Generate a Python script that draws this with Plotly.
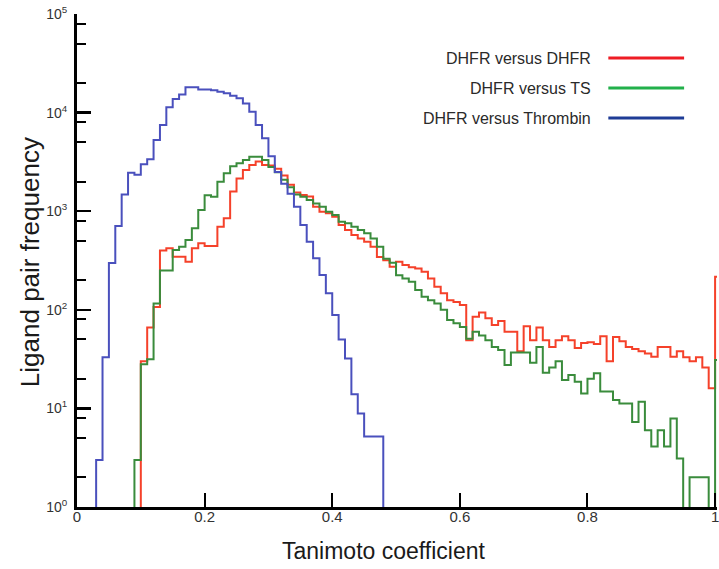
import plotly.graph_objects as go

# ---------------- data ----------------
bin_width = 0.01
series_names = ["DHFR versus DHFR", "DHFR versus TS", "DHFR versus Thrombin"]

# DHFR vs DHFR : bins starting at 0.10 ... 1.00
red_start = 0.10
red_counts = [30, 66, 107, 400, 420, 346, 346, 307, 420, 473,
              444, 444, 697, 850, 1580, 2150, 2620, 2950, 3200, 2950,
              2900, 2700, 2300, 1850, 1550, 1460, 1410, 1110, 990, 955,
              880, 725, 645, 573, 530, 490, 436, 344, 319, 273,
              307, 284, 270, 263, 243, 208, 171, 147, 125, 120,
              112, 49, 85, 94, 82, 70, 77, 60, 60, 38,
              68, 49, 66, 49, 42, 49, 54, 49, 41, 46,
              47, 45, 54, 30, 53, 48, 42, 40, 38, 36,
              33.5, 42, 42, 33.5, 38, 33, 30, 33, 26, 16,
              217]

# DHFR vs TS : bins starting at 0.09 ... 1.00
green_start = 0.09
green_counts = [3, 28, 31.5, 116, 250, 250, 405, 437, 510, 670,
                1030, 1450, 1400, 1990, 2430, 2860, 3060, 3310, 3570, 3570,
                3310, 2800, 2480, 2080, 1750, 1480, 1400, 1300, 1200, 1110,
                990, 916, 783, 753, 697, 645, 596, 530, 436, 330,
                300, 224, 208, 193, 159, 136, 125, 116, 100, 79,
                73, 67, 51, 60, 55, 49, 42, 39, 27.6, 37,
                37, 37, 29, 42, 23, 26, 30, 19.4, 21.8, 18.6,
                14.2, 20, 22.7, 14.8, 14.8, 12.2, 11.2, 11.2, 7.3, 11.7,
                6.0, 4.1, 6.0, 4.1, 7.9, 3.1, 0, 2, 2, 2,
                0, 31]

# DHFR vs Thrombin : bins starting at 0.03 ... 0.47
blue_start = 0.03
blue_counts = [3, 33, 298, 708, 1480, 2450, 2340, 2990, 3360, 5270,
               7480, 11300, 13700, 15300, 18100, 18100, 17200, 17200, 16900, 16300,
               15700, 14800, 14000, 12400, 10200, 7480, 5500, 3600, 2500, 1900,
               1500, 1110, 724, 490, 333, 225, 147, 88.5, 50, 32,
               13.9, 8.9, 5.2, 5.2, 5.2]

x_tick_vals = [0, 0.2, 0.4, 0.6, 0.8, 1]
x_tick_text = ["0", "0.2", "0.4", "0.6", "0.8", "1"]
y_tick_vals = [1, 10, 100, 1000, 10000, 100000]
y_tick_text = ["10<sup>0</sup>", "10<sup>1</sup>", "10<sup>2</sup>",
               "10<sup>3</sup>", "10<sup>4</sup>", "10<sup>5</sup>"]
y_minor_vals = [2, 5, 8, 20, 50, 80, 200, 500, 800,
                2000, 5000, 8000, 20000, 50000, 80000]

curve_colors = ["#f5412a", "#3a8c3c", "#4a50bd"]
legend_colors = ["#ee1c24", "#22b04b", "#1f3c96"]

FONT = "Liberation Sans, Arial, Helvetica, sans-serif"


def step_xy(start, counts):
    floor = 0.1  # below the visible range (log axis), acts as zero
    xs = [start]
    ys = [floor]
    for i, c in enumerate(counts):
        xs.append(round(start + i * bin_width, 4))
        ys.append(c if c > 0 else floor)
    end = round(start + len(counts) * bin_width, 4)
    xs += [end, end]
    ys += [ys[-1], floor]
    return xs, ys


fig = go.Figure()
for name, start, counts, col in zip(series_names,
                                    [red_start, green_start, blue_start],
                                    [red_counts, green_counts, blue_counts],
                                    curve_colors):
    xs, ys = step_xy(start, counts)
    fig.add_trace(go.Scatter(x=xs, y=ys, mode="lines", name=name,
                             line=dict(color=col, width=2, shape="hv"),
                             showlegend=False, hoverinfo="skip"))

# plot area (page px): x 77..719, y 14..507
W, H = 719, 569
PL, PW, PT, PH = 77, 642, 14, 493


def px_x(sx):  # page px -> paper x
    return (sx - PL) / PW


def px_y(sy):  # page px -> paper y
    return (PT + PH - sy) / PH


# legend drawn as text + line sample on the right
leg_sy = [58, 88, 118]
for name, col, sy in zip(series_names, legend_colors, leg_sy):
    fig.add_annotation(x=px_x(595), y=px_y(sy), xref="paper", yref="paper",
                       text=name, showarrow=False, xanchor="right",
                       yanchor="middle",
                       font=dict(family=FONT, size=16, color="#2a2a2a"))
    fig.add_shape(type="line", xref="paper", yref="paper",
                  x0=px_x(610), x1=px_x(686), y0=px_y(sy), y1=px_y(sy),
                  line=dict(color=col, width=3))

# axis titles
fig.add_annotation(x=px_x(384), y=px_y(551), xref="paper", yref="paper",
                   text="Tanimoto coefficient", showarrow=False,
                   xanchor="center", yanchor="middle",
                   font=dict(family=FONT, size=23, color="#1a1a1a"))
fig.add_annotation(x=px_x(30), y=px_y(262), xref="paper", yref="paper",
                   text="Ligand pair frequency", showarrow=False,
                   textangle=-90, xanchor="center", yanchor="middle",
                   font=dict(family=FONT, size=26, color="#1a1a1a"))

fig.update_layout(
    width=W, height=H,
    margin=dict(l=PL, r=W - PL - PW, t=PT, b=H - PT - PH),
    paper_bgcolor="white", plot_bgcolor="white",
    font=dict(family=FONT, color="#333333"),
    hovermode=False,
)
fig.update_xaxes(
    range=[0, 1.003], showgrid=False, zeroline=False,
    showline=True, linecolor="black", linewidth=2.5,
    ticks="inside", ticklen=14, tickwidth=2, tickcolor="black",
    tickmode="array", tickvals=x_tick_vals, ticktext=x_tick_text,
    tickfont=dict(family=FONT, size=15, color="#333333"),
    ticklabelstandoff=-6, ticklabeloverflow="allow",
)
fig.update_yaxes(
    type="log", range=[0, 5], showgrid=False, zeroline=False,
    showline=True, linecolor="black", linewidth=3,
    ticks="inside", ticklen=14, tickwidth=2.5, tickcolor="black",
    tickmode="array", tickvals=y_tick_vals, ticktext=y_tick_text,
    tickfont=dict(family=FONT, size=14, color="#333333"),
    ticklabelstandoff=4, ticklabeloverflow="allow",
    minor=dict(tickmode="array", tickvals=y_minor_vals, ticks="inside",
               ticklen=9, tickwidth=2, tickcolor="black", showgrid=False),
)

fig.write_html(
    "out.html",
    config={"displayModeBar": False, "staticPlot": True},
    post_script="document.body.style.margin='0';"
                "document.body.style.overflow='hidden';",
)
